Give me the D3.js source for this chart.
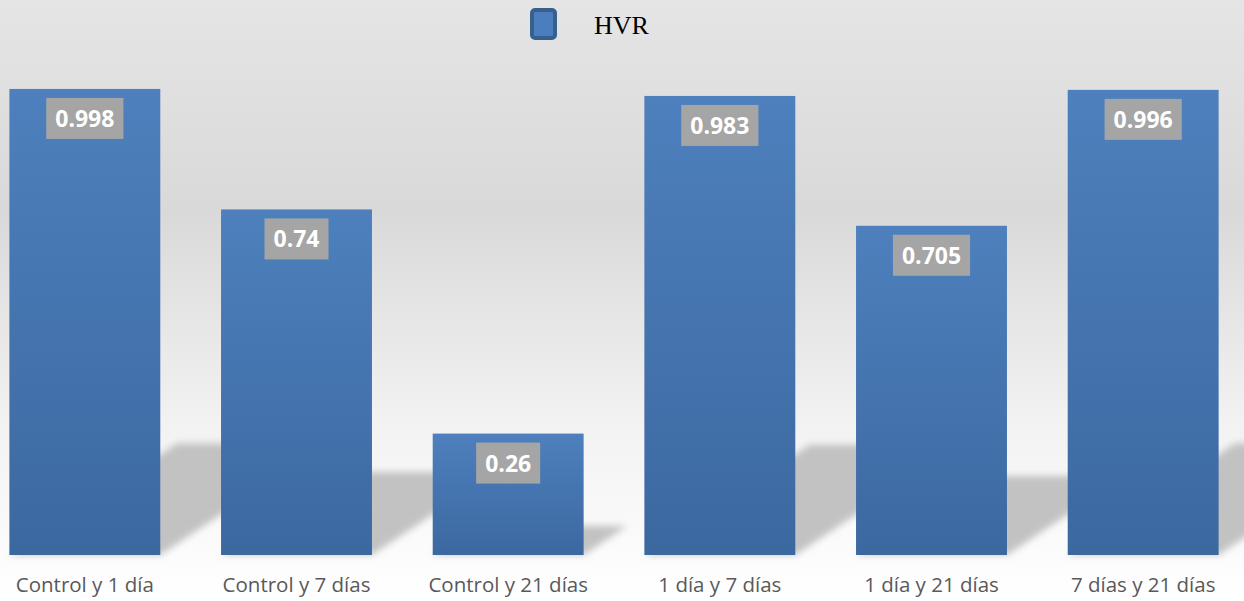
<!DOCTYPE html>
<html>
<head>
<meta charset="utf-8">
<script src="https://cdn.jsdelivr.net/npm/d3@7"></script>
<style>
  html, body { margin: 0; padding: 0; background: #fff; }
  svg { display: block; }
</style>
</head>
<body>
<svg id="chart" width="1244" height="601"></svg>
<script>
'use strict';

var categories = ['Control y 1 día', 'Control y 7 días', 'Control y 21 días',
  '1 día y 7 días', '1 día y 21 días', '7 días y 21 días'];
var hvr = [0.998, 0.74, 0.26, 0.983, 0.705, 0.996];
var seriesName = 'HVR';

var svg = d3.select('#chart'),
  width = +svg.attr('width'),
  height = +svg.attr('height'),
  baseY = 555;

var defs = svg.append('defs');

var bg = defs.append('linearGradient')
  .attr('id', 'bg').attr('x1', 0).attr('y1', 0).attr('x2', 0).attr('y2', 1);
bg.append('stop').attr('offset', '0%').attr('stop-color', '#e5e5e5');
bg.append('stop').attr('offset', '35%').attr('stop-color', '#d9d9d9');
bg.append('stop').attr('offset', '70%').attr('stop-color', '#f2f2f2');
bg.append('stop').attr('offset', '100%').attr('stop-color', '#ffffff');

var barGrad = defs.append('linearGradient')
  .attr('id', 'barGrad').attr('x1', 0).attr('y1', 0).attr('x2', 0).attr('y2', 1);
barGrad.append('stop').attr('offset', '0%').attr('stop-color', '#4d80bd');
barGrad.append('stop').attr('offset', '100%').attr('stop-color', '#3c68a0');

defs.append('filter').attr('id', 'blur')
  .attr('x', '-20%').attr('y', '-20%').attr('width', '140%').attr('height', '140%')
  .append('feGaussianBlur').attr('stdDeviation', 3.5);

svg.append('rect')
  .attr('width', width).attr('height', height)
  .attr('fill', 'url(#bg)');

var x = d3.scaleBand()
  .domain(categories)
  .range([-21, 1249])
  .paddingInner(0.287)
  .paddingOuter(0.1435);

var y = d3.scaleLinear()
  .domain([0, 1])
  .range([baseY, 88]);

var data = categories.map(function (c, i) { return {cat: c, v: hvr[i]}; });

// perspective shadows behind bars
svg.append('g')
  .attr('filter', 'url(#blur)')
  .selectAll('path')
  .data(data)
  .join('path')
  .attr('fill', '#c2c2c2')
  .attr('d', function (d) {
    var x0 = x(d.cat), x1 = x0 + x.bandwidth();
    var sh = (baseY - y(d.v)) * 0.24, dx = sh * 1.5;
    return 'M' + x0 + ',' + baseY + 'L' + (x0 + dx) + ',' + (baseY - sh) +
      'L' + (x1 + dx) + ',' + (baseY - sh) + 'L' + x1 + ',' + baseY + 'Z';
  });

svg.append('g')
  .selectAll('rect')
  .data(data)
  .join('rect')
  .attr('x', function (d) { return x(d.cat); })
  .attr('y', function (d) { return y(d.v); })
  .attr('width', x.bandwidth())
  .attr('height', function (d) { return baseY - y(d.v); })
  .attr('fill', 'url(#barGrad)');

// value labels
var labels = svg.append('g')
  .selectAll('g')
  .data(data)
  .join('g')
  .attr('transform', function (d) {
    return 'translate(' + (x(d.cat) + x.bandwidth() / 2) + ',' + (y(d.v) + 9) + ')';
  });

labels.append('text')
  .attr('y', 29)
  .attr('text-anchor', 'middle')
  .attr('fill', '#ffffff')
  .style('font-family', '"Open Sans", sans-serif')
  .style('font-weight', 'bold')
  .style('font-size', '23px')
  .text(function (d) { return String(d.v); });

labels.each(function () {
  var g = d3.select(this);
  var bb = g.select('text').node().getBBox();
  g.insert('rect', 'text')
    .attr('x', bb.x - 9)
    .attr('y', 0)
    .attr('width', bb.width + 18)
    .attr('height', 41)
    .attr('fill', '#a5a5a5');
});

// category axis
var xAxis = svg.append('g')
  .attr('transform', 'translate(0,' + baseY + ')')
  .call(d3.axisBottom(x).tickSize(0).tickPadding(22));
xAxis.select('.domain').remove();
xAxis.selectAll('text')
  .attr('fill', '#595959')
  .style('font-family', '"Open Sans", sans-serif')
  .style('font-size', '20.5px');

// legend
var legend = svg.append('g');
legend.append('rect')
  .attr('x', 532).attr('y', 10)
  .attr('width', 23).attr('height', 28)
  .attr('rx', 3)
  .attr('fill', '#4a7ebf')
  .attr('stroke', '#38608f')
  .attr('stroke-width', 4);
legend.append('text')
  .attr('x', 594).attr('y', 34)
  .attr('fill', '#000')
  .style('font-family', '"Liberation Serif", serif')
  .style('font-size', '26px')
  .text(seriesName);
</script>
</body>
</html>
